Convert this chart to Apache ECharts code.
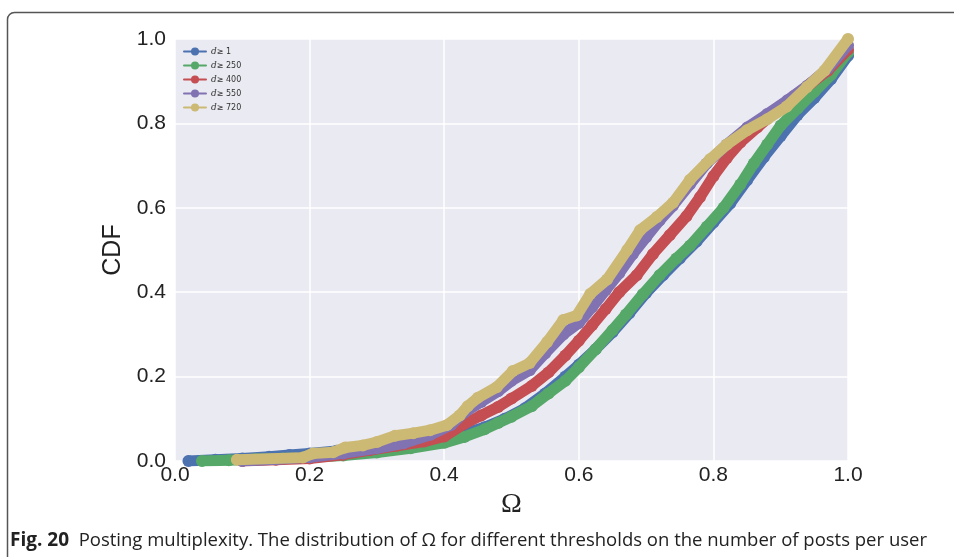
<!DOCTYPE html>
<html>
<head>
<meta charset="utf-8">
<script src="https://cdn.jsdelivr.net/npm/echarts@6/dist/echarts.min.js"></script>
<style>
  html, body { margin: 0; padding: 0; background: #fff; }
  #chart { width: 954px; height: 557px; }
</style>
</head>
<body>
<div id="chart"></div>
<script>
// values, [Omega, CDF]
const d1 = [[0.02,0.0],[0.06,0.003],[0.1,0.006],[0.14,0.01],[0.17,0.014],[0.2,0.018],[0.24,0.024],[0.28,0.03],[0.32,0.038],[0.36,0.046],[0.4,0.055],[0.43,0.065],[0.46,0.08],[0.49,0.1],[0.52,0.125],[0.55,0.16],[0.58,0.2],[0.6,0.228],[0.625,0.265],[0.65,0.305],[0.675,0.35],[0.7,0.398],[0.725,0.44],[0.75,0.48],[0.775,0.52],[0.8,0.565],[0.825,0.61],[0.85,0.665],[0.875,0.72],[0.9,0.77],[0.925,0.82],[0.95,0.86],[0.975,0.905],[1.0,0.96]];
const d250 = [[0.04,0.0],[0.08,0.002],[0.12,0.004],[0.16,0.006],[0.2,0.009],[0.25,0.013],[0.3,0.02],[0.35,0.03],[0.4,0.043],[0.43,0.057],[0.46,0.075],[0.48,0.09],[0.5,0.105],[0.53,0.13],[0.555,0.16],[0.58,0.19],[0.6,0.222],[0.625,0.265],[0.65,0.31],[0.67,0.347],[0.695,0.395],[0.72,0.44],[0.745,0.48],[0.765,0.51],[0.79,0.555],[0.815,0.6],[0.84,0.655],[0.86,0.705],[0.88,0.75],[0.9,0.795],[0.925,0.835],[0.95,0.875],[0.975,0.915],[1.0,0.968]];
const d400 = [[0.1,0.0],[0.15,0.003],[0.2,0.006],[0.25,0.015],[0.29,0.026],[0.33,0.036],[0.37,0.046],[0.4,0.058],[0.43,0.088],[0.455,0.108],[0.48,0.128],[0.5,0.148],[0.53,0.178],[0.555,0.21],[0.58,0.25],[0.6,0.285],[0.62,0.322],[0.64,0.36],[0.66,0.4],[0.686,0.44],[0.71,0.49],[0.735,0.535],[0.76,0.58],[0.78,0.625],[0.8,0.675],[0.82,0.718],[0.84,0.755],[0.865,0.79],[0.89,0.825],[0.92,0.865],[0.945,0.895],[0.97,0.925],[1.0,0.975]];
const d550 = [[0.1,0.0],[0.15,0.004],[0.2,0.009],[0.25,0.018],[0.3,0.03],[0.34,0.042],[0.38,0.062],[0.41,0.085],[0.43,0.115],[0.455,0.14],[0.48,0.165],[0.5,0.19],[0.527,0.215],[0.55,0.255],[0.577,0.3],[0.6,0.327],[0.62,0.365],[0.64,0.405],[0.66,0.445],[0.68,0.49],[0.7,0.53],[0.72,0.57],[0.74,0.605],[0.765,0.655],[0.79,0.705],[0.82,0.75],[0.85,0.79],[0.88,0.822],[0.91,0.855],[0.94,0.89],[0.97,0.93],[1.0,0.985]];
const d720 = [[0.092,0.003],[0.19,0.008],[0.205,0.018],[0.235,0.021],[0.253,0.032],[0.279,0.037],[0.3,0.045],[0.327,0.06],[0.354,0.066],[0.379,0.073],[0.404,0.085],[0.423,0.108],[0.435,0.13],[0.45,0.15],[0.478,0.175],[0.502,0.213],[0.527,0.232],[0.553,0.282],[0.577,0.334],[0.597,0.345],[0.617,0.396],[0.642,0.43],[0.672,0.5],[0.691,0.547],[0.716,0.578],[0.74,0.612],[0.765,0.666],[0.795,0.715],[0.82,0.75],[0.85,0.784],[0.88,0.81],[0.909,0.84],[0.939,0.886],[0.965,0.925],[1.0,1.0]];

const names = ['d\u2265 1', 'd\u2265 250', 'd\u2265 400', 'd\u2265 550', 'd\u2265 720'];
const colors = ['#4C72B0', '#55A868', '#C44E52', '#8172B2', '#CCB974'];
const allData = [d1, d250, d400, d550, d720];

const chart = echarts.init(document.getElementById('chart'));

const series = allData.map((data, i) => ({
    name: names[i],
    type: 'line',
    data: data,
    symbol: 'circle',
    symbolSize: 12,
    showSymbol: true,
    lineStyle: {width: 11, color: colors[i], cap: 'round', join: 'round'},
    itemStyle: {color: colors[i]},
    emphasis: {disabled: true},
    z: 2 + i
}));

chart.setOption({
    animation: false,
    backgroundColor: '#fff',
    grid: {left: 175, right: 106, top: 39, bottom: 96, show: true, backgroundColor: '#EAEAF2', borderWidth: 0},
    legend: {
        left: 178, top: 42, orient: 'vertical',
        itemWidth: 22, itemHeight: 10, itemGap: 5,
        data: names,
        formatter: n => '{i|d}' + n.slice(1),
        textStyle: {
            fontSize: 8, color: '#333', fontFamily: 'DejaVu Sans',
            rich: {i: {fontStyle: 'italic', fontFamily: 'DejaVu Serif', fontSize: 9, color: '#333'}}
        }
    },
    xAxis: {
        type: 'value', min: 0, max: 1, interval: 0.2,
        name: '\u03A9', nameLocation: 'middle', nameGap: 27,
        nameTextStyle: {fontSize: 28, fontFamily: 'Liberation Serif', color: '#222'},
        axisLine: {show: false}, axisTick: {show: false},
        axisLabel: {fontSize: 21, color: '#222', fontFamily: 'Liberation Sans', margin: 4, formatter: v => v.toFixed(1)},
        splitLine: {lineStyle: {color: '#fff', width: 1.5}}
    },
    yAxis: {
        type: 'value', min: 0, max: 1, interval: 0.2,
        name: 'CDF', nameLocation: 'middle', nameGap: 40,
        nameTextStyle: {fontSize: 25, fontFamily: 'Liberation Sans', color: '#222'},
        axisLine: {show: false}, axisTick: {show: false},
        axisLabel: {fontSize: 21, color: '#222', fontFamily: 'Liberation Sans', margin: 9, formatter: v => v.toFixed(1)},
        splitLine: {lineStyle: {color: '#fff', width: 1.5}}
    },
    graphic: [
        {
            type: 'rect', left: 5, top: 10, silent: true,
            shape: {width: 1000, height: 600, r: 7},
            style: {fill: 'none', stroke: '#555', lineWidth: 1.5}
        },
        {
            type: 'text', left: 10, top: 531, silent: true,
            style: {
                text: '{b|Fig. 20}  Posting multiplexity. The distribution of \u03A9 for different thresholds on the number of posts per user',
                fontSize: 18.5, fontFamily: 'Open Sans', fill: '#222',
                rich: {b: {fontWeight: 'bold', fontSize: 19, fontFamily: 'Open Sans', fill: '#222'}}
            }
        }
    ],
    series: series
});
</script>
</body>
</html>
